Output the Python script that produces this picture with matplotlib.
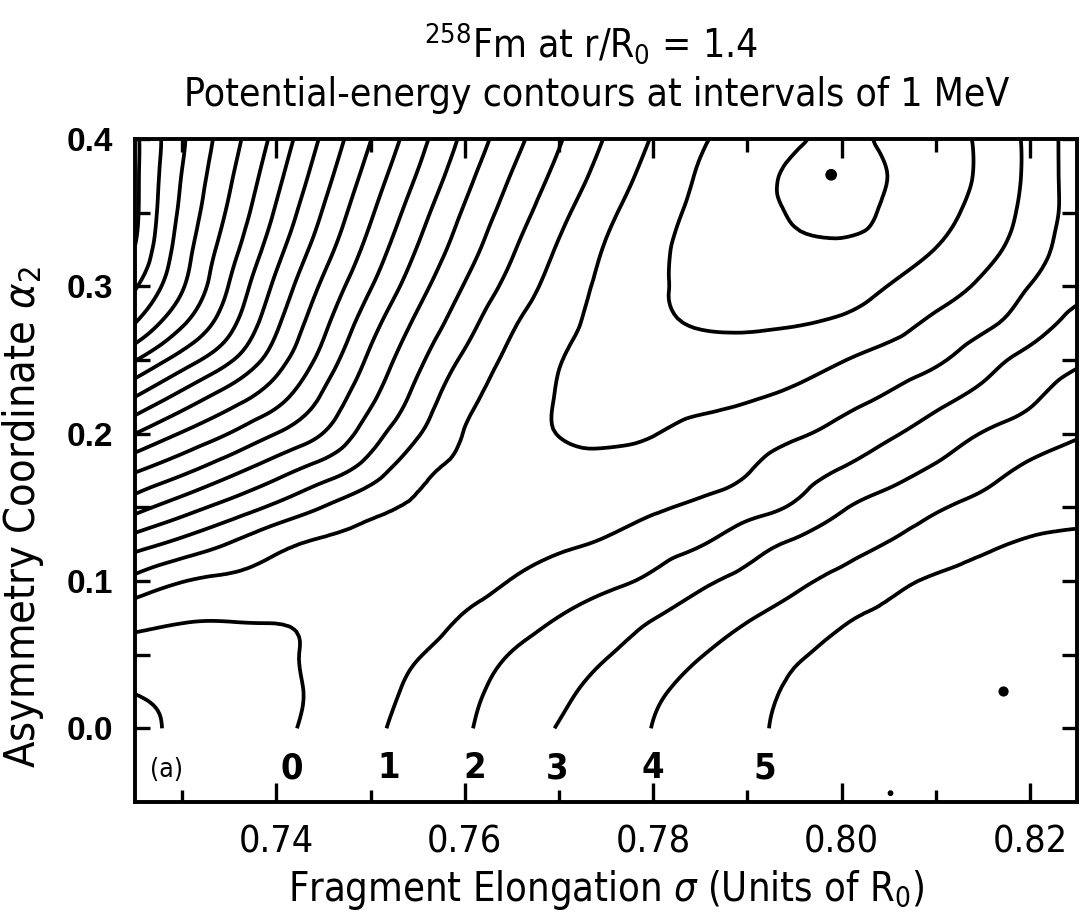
import numpy as np
import matplotlib
matplotlib.use('Agg')
import matplotlib.pyplot as plt
import matplotlib.tri as mtri

# grid of the potential-energy table (MeV)
sigma = np.linspace(0.725, 0.825, 21)
alpha2 = np.linspace(0.0, 0.40, 17)

e_000 = [-1.2, -0.85, -0.55, -0.2, 0.3, 0.82, 1.36, 1.9, 2.48, 3.05, 3.54, 4.02, 4.43, 4.84, 5.15, 5.35, 5.45, 5.5, 5.55, 5.55, 5.55]
e_025 = [-0.97, -0.75, -0.5, -0.25, 0.22, 0.7, 1.2, 1.77, 2.3, 2.8, 3.33, 3.85, 4.31, 4.74, 5.1, 5.3, 5.4, 5.45, 5.5, 5.5, 5.5]
e_050 = [-0.4, -0.35, -0.3, -0.15, 0.2, 0.56, 0.95, 1.49, 2.04, 2.5, 2.95, 3.45, 3.96, 4.43, 4.9, 5.15, 5.3, 5.4, 5.45, 5.45, 5.45]
e_075 = [0.35, 0.08, 0.05, 0.06, 0.15, 0.35, 0.6, 1.07, 1.53, 2.02, 2.48, 2.97, 3.45, 3.93, 4.41, 4.9, 5.15, 5.3, 5.35, 5.4, 5.4]
e_100 = [1.7, 1.04, 0.8, 0.62, 0.5, 0.48, 0.55, 0.7, 1.03, 1.4, 1.76, 2.2, 2.8, 3.3, 3.8, 4.27, 4.75, 5.1, 5.25, 5.35, 5.4]
e_125 = [3.4, 2.67, 1.95, 1.24, 0.85, 0.68, 0.6, 0.6, 0.68, 0.9, 1.1, 1.55, 1.95, 2.57, 3.15, 3.6, 4.05, 4.5, 4.85, 5.1, 5.15]
e_150 = [5.35, 4.45, 3.62, 2.78, 1.97, 1.28, 0.85, 0.6, 0.5, 0.58, 0.64, 0.85, 1.24, 1.65, 2.13, 2.9, 3.42, 3.9, 4.26, 4.6, 4.85]
e_175 = [7.1, 6.23, 5.3, 4.38, 3.51, 2.49, 1.31, 0.76, 0.52, 0.3, 0.2, 0.25, 0.45, 0.95, 1.52, 2.06, 2.6, 3.15, 3.68, 4.18, 4.6]
e_200 = [9.0, 7.92, 6.98, 5.99, 4.97, 3.46, 2.09, 0.96, 0.42, -0.02, -0.1, -0.02, 0.25, 0.56, 0.87, 1.31, 1.86, 2.44, 3.04, 3.46, 3.9]
e_225 = [11.0, 9.67, 8.52, 7.38, 5.86, 4.21, 2.69, 1.31, 0.53, -0.05, -0.28, -0.32, -0.27, -0.1, 0.2, 0.65, 1.1, 1.68, 2.26, 2.84, 3.5]
e_250 = [13.05, 11.53, 10.14, 8.44, 6.63, 4.79, 3.23, 1.81, 0.75, 0.04, -0.3, -0.48, -0.6, -0.6, -0.45, -0.05, 0.39, 0.85, 1.6, 2.3, 2.85]
e_275 = [15.0, 13.14, 11.32, 9.18, 7.24, 5.39, 3.79, 2.4, 1.13, 0.28, -0.3, -0.77, -1.07, -1.12, -1.05, -0.85, -0.4, 0.19, 0.77, 1.53, 2.35]
e_300 = [16.1, 14.1, 11.95, 9.76, 7.81, 6.06, 4.39, 2.94, 1.66, 0.57, -0.23, -0.85, -1.2, -1.4, -1.48, -1.4, -0.98, -0.43, 0.18, 1.02, 1.7]
e_325 = [16.95, 14.49, 12.42, 10.35, 8.41, 6.64, 4.94, 3.45, 2.11, 0.89, -0.07, -0.78, -1.3, -1.6, -1.8, -1.82, -1.55, -0.98, -0.32, 0.54, 1.6]
e_350 = [17.2, 14.77, 12.84, 10.87, 8.92, 7.13, 5.43, 3.88, 2.54, 1.29, 0.22, -0.6, -1.22, -1.68, -2.1, -2.35, -1.83, -1.3, -0.64, 0.31, 1.45]
e_375 = [17.2, 14.96, 13.15, 11.29, 9.38, 7.59, 5.93, 4.33, 2.95, 1.72, 0.59, -0.34, -1.09, -1.64, -2.2, -2.55, -1.98, -1.45, -0.83, 0.23, 1.5]
e_400 = [17.2, 15.13, 13.43, 11.68, 9.81, 8.03, 6.38, 4.76, 3.37, 2.1, 0.93, -0.07, -0.88, -1.37, -1.81, -2.3, -1.77, -1.35, -0.83, 0.24, 1.5]

levels = list(range(-2, 18))

# marked points
dot_sigma = [0.7989, 0.8172, 0.8052]
dot_alpha = [0.3757, 0.025, -0.044]

contour_names = ['0', '1', '2', '3', '4', '5']
xticks = [0.74, 0.76, 0.78, 0.80, 0.82]
xtick_labels = ['0.74', '0.76', '0.78', '0.80', '0.82']
yticks = [0.0, 0.1, 0.2, 0.3, 0.4]
ytick_labels = ['0.0', '0.1', '0.2', '0.3', '0.4']

plt.rcParams['font.family'] = ['DejaVu Sans']
plt.rcParams['font.stretch'] = 'condensed'
plt.rcParams['mathtext.fontset'] = 'custom'
plt.rcParams['mathtext.rm'] = 'DejaVu Sans:stretch=condensed'
plt.rcParams['mathtext.it'] = 'DejaVu Sans:italic:stretch=condensed'
plt.rcParams['mathtext.bf'] = 'DejaVu Sans:bold:stretch=condensed'

energy = np.array([e_000, e_025, e_050, e_075, e_100, e_125, e_150, e_175, e_200,
                   e_225, e_250, e_275, e_300, e_325, e_350, e_375, e_400])

# smooth the table with matplotlib's own refiner (in grid-index space)
ii, jj = np.meshgrid(np.arange(len(sigma)), np.arange(len(alpha2)))
tri_idx = mtri.Triangulation(ii.ravel().astype(float), jj.ravel().astype(float))
tri_fine, e_fine = mtri.UniformTriRefiner(tri_idx).refine_field(energy.ravel(), subdiv=3)
tri_plot = mtri.Triangulation(np.interp(tri_fine.x, np.arange(len(sigma)), sigma),
                              np.interp(tri_fine.y, np.arange(len(alpha2)), alpha2),
                              tri_fine.triangles)

fig = plt.figure(figsize=(10.83, 9.15), dpi=100)
ax = fig.add_axes([0.1247, 0.1235, 0.8698, 0.7246])

ax.tricontour(tri_plot, e_fine, levels=levels, colors='black',
              linewidths=2.7, linestyles='solid')

ax.scatter(dot_sigma, dot_alpha, s=[55, 40, 10], color='black', zorder=3)

# labels under the contour ends
label_x = [0.7416, 0.7519, 0.7611, 0.7698, 0.7800, 0.7919]
for name, lx in zip(contour_names, label_x):
    ax.text(lx, -0.027, name, ha='center', va='center', fontsize=26,
            fontweight='bold')
ax.text(0.7283, -0.028, '(a)', ha='center', va='center', fontsize=19)

ax.set_xlim(0.725, 0.825)
ax.set_ylim(-0.05, 0.40)

ax.set_xticks(xticks, labels=xtick_labels)
ax.set_xticks([0.73, 0.75, 0.77, 0.79, 0.81], minor=True)
ax.set_yticks(yticks, labels=ytick_labels)
ax.set_yticks([0.05, 0.15, 0.25, 0.35], minor=True)

ax.tick_params(which='both', direction='in', top=True, right=True, width=2.4)
ax.tick_params(axis='x', which='major', length=14, labelsize=27, pad=16)
ax.tick_params(axis='x', which='minor', length=9)
ax.tick_params(axis='y', which='major', length=11, labelsize=24, pad=16)
ax.tick_params(axis='y', which='minor', length=11)
for lab in ax.get_yticklabels():
    lab.set_family(['Liberation Sans', 'DejaVu Sans'])
    lab.set_stretch('normal')
    lab.set_fontweight('bold')

for sp in ax.spines.values():
    sp.set_linewidth(2.8)

ax.set_xlabel(r'Fragment Elongation $\it{\sigma}$ (Units of R$_0$)', fontsize=28.5)
ax.set_ylabel(r'Asymmetry Coordinate $\alpha_2$', fontsize=31)
ax.xaxis.set_label_coords(0.5, -0.1)
ax.yaxis.set_label_coords(-0.095, 0.43)

fig.text(0.546, 0.953, r'$^{258}$Fm at r/R$_0$ = 1.4', ha='center', va='center',
         fontsize=28)
fig.text(0.551, 0.896, 'Potential-energy contours at intervals of 1 MeV',
         ha='center', va='center', fontsize=28)

fig.savefig('out.png', dpi=100)
